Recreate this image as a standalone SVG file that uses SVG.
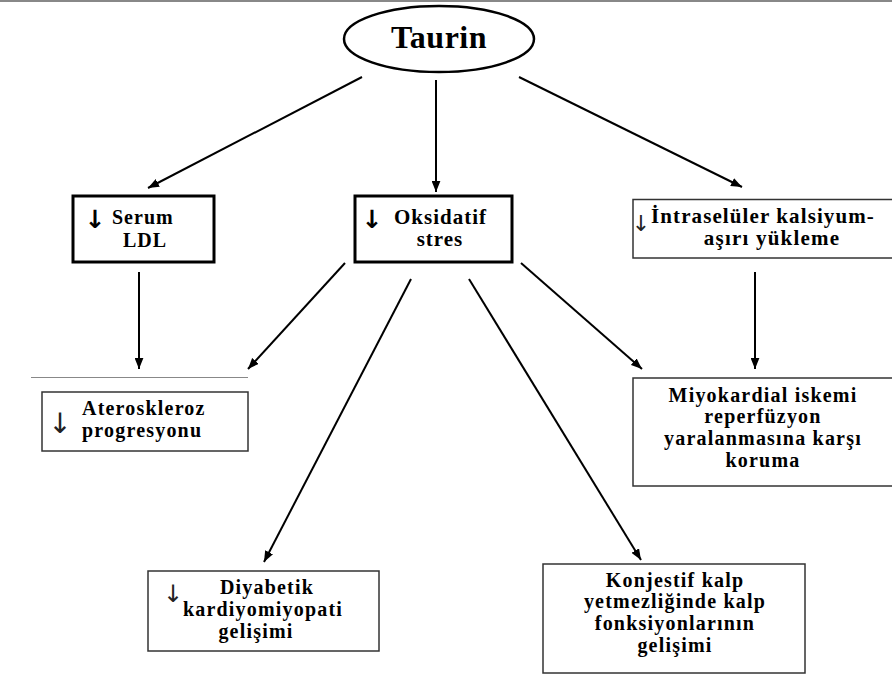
<svg xmlns="http://www.w3.org/2000/svg" width="892" height="677" viewBox="0 0 892 677">
<defs>
<style>
.bg{fill:#fff}
.box{fill:#fff;stroke:#000;stroke-width:3}
.tbox{fill:#fff;stroke:#333;stroke-width:1.5}
.t{font-family:"Liberation Serif","Times New Roman",serif;font-weight:bold;font-size:20px;fill:#000}
.sp{letter-spacing:1.2px}
.arr{font-family:"DejaVu Sans","Liberation Sans",sans-serif;font-weight:bold;font-size:25px;fill:#000}
.thin{font-family:"DejaVu Sans","Liberation Sans",sans-serif;font-weight:normal;font-size:28px;fill:#222}
.c{fill:none;stroke:#000;stroke-width:2;marker-end:url(#ah)}
.rule{stroke:#888;fill:none}
</style>
<marker id="ah" viewBox="0 0 10 8" refX="10" refY="4" markerWidth="11" markerHeight="9" markerUnits="userSpaceOnUse" orient="auto">
<path d="M0,0 L10,4 L0,8 z" fill="#000"/>
</marker>
</defs>
<rect class="bg" x="0" y="0" width="892" height="677"/>
<line class="rule" x1="0" y1="1" x2="892" y2="1" stroke-width="2"/>
<line class="rule" x1="31" y1="377.5" x2="248" y2="377.5" stroke-width="1"/>

<g id="connectors">
<line class="c" x1="362" y1="77" x2="148" y2="188"/>
<line class="c" x1="436" y1="80" x2="436" y2="192"/>
<line class="c" x1="519" y1="77" x2="742" y2="187"/>
<line class="c" x1="139" y1="272" x2="139" y2="369"/>
<line class="c" x1="345" y1="263" x2="248" y2="369"/>
<line class="c" x1="411" y1="279" x2="264" y2="562"/>
<line class="c" x1="469" y1="279" x2="641" y2="560"/>
<line class="c" x1="521" y1="263" x2="642" y2="369"/>
<line class="c" x1="755" y1="272" x2="755" y2="369"/>
</g>

<g id="taurin">
<ellipse cx="439" cy="39" rx="95" ry="33" fill="#fff" stroke="#000" stroke-width="2.5"/>
<text class="t" x="439" y="48" text-anchor="middle" style="font-size:32px;letter-spacing:0.5px">Taurin</text>
</g>

<g id="serum-ldl">
<rect class="box" x="73" y="196" width="141" height="66"/>
<text class="arr" x="95" y="228" text-anchor="middle">↓</text>
<text class="t" x="112" y="224" style="letter-spacing:1px">Serum</text>
<text class="t" x="145" y="247" text-anchor="middle" style="letter-spacing:1px">LDL</text>
</g>

<g id="oksidatif-stres">
<rect class="box" x="355" y="196" width="157" height="66"/>
<text class="arr" x="372" y="228" text-anchor="middle">↓</text>
<text class="t" x="394" y="224" style="font-size:21px;letter-spacing:1px">Oksidatif</text>
<text class="t" x="440" y="246" text-anchor="middle" style="font-size:21px;letter-spacing:1px">stres</text>
</g>

<g id="intraseluler">
<rect class="tbox" x="633" y="199.5" width="262" height="58.5"/>
<text class="thin" x="641" y="231" text-anchor="middle" style="font-size:22px">↓</text>
<text class="t" x="651" y="223" style="font-size:21px;letter-spacing:1.1px">İntraselüler kalsiyum-</text>
<text class="t" x="772" y="245" text-anchor="middle" style="font-size:21px;letter-spacing:1.2px">aşırı yükleme</text>
</g>

<g id="ateroskleroz">
<rect class="tbox" x="42" y="392" width="206" height="59"/>
<text class="thin" x="60" y="433" text-anchor="middle">↓</text>
<text class="t sp" x="82" y="415">Ateroskleroz</text>
<text class="t sp" x="82" y="437">progresyonu</text>
</g>

<g id="miyokardial">
<rect class="tbox" x="633" y="378" width="262" height="108"/>
<text class="t sp" x="763" y="402" text-anchor="middle">Miyokardial iskemi</text>
<text class="t sp" x="763" y="423" text-anchor="middle">reperfüzyon</text>
<text class="t sp" x="763" y="445" text-anchor="middle">yaralanmasına karşı</text>
<text class="t sp" x="763" y="467" text-anchor="middle">koruma</text>
</g>

<g id="diyabetik">
<rect class="tbox" x="148" y="571" width="231" height="80"/>
<text class="thin" x="173" y="602" text-anchor="middle" style="font-size:24px">↓</text>
<text class="t sp" x="267" y="594" text-anchor="middle">Diyabetik</text>
<text class="t sp" x="263" y="616" text-anchor="middle">kardiyomiyopati</text>
<text class="t sp" x="256" y="638" text-anchor="middle">gelişimi</text>
</g>

<g id="konjestif">
<rect class="tbox" x="543" y="564" width="262" height="109"/>
<text class="t sp" x="675" y="587" text-anchor="middle">Konjestif kalp</text>
<text class="t sp" x="675" y="608" text-anchor="middle">yetmezliğinde kalp</text>
<text class="t sp" x="675" y="630" text-anchor="middle">fonksiyonlarının</text>
<text class="t sp" x="675" y="652" text-anchor="middle">gelişimi</text>
</g>
</svg>
